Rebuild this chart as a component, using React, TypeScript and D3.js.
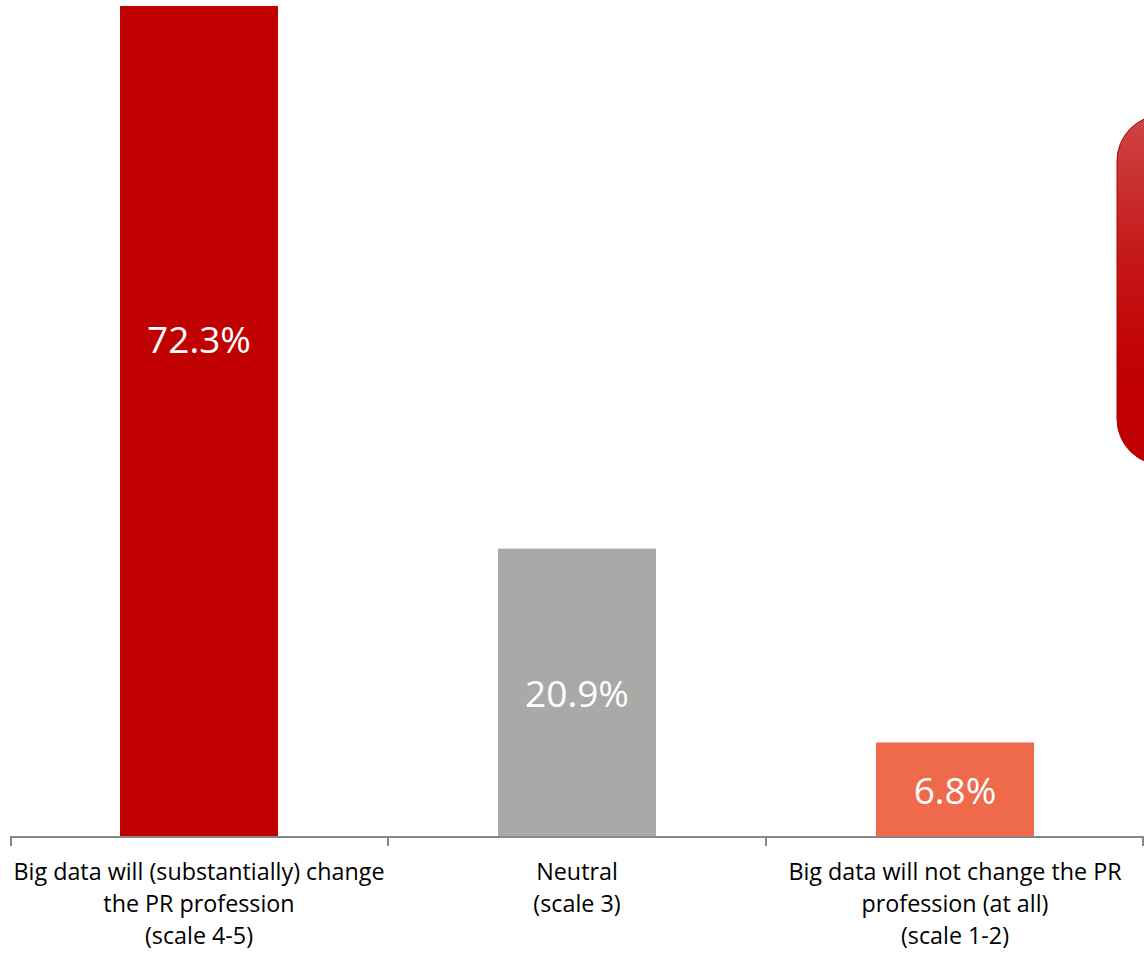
import React from "react";
import * as d3 from "d3";

const categories: string[][] = [
  ["Big data will (substantially) change", "the PR profession", "(scale 4-5)"],
  ["Neutral", "(scale 3)"],
  ["Big data will not change the PR", "profession (at all)", "(scale 1-2)"],
];
const values: number[] = [72.3, 20.9, 6.8];
const valueLabels: string[] = ["72.3%", "20.9%", "6.8%"];
const colors: string[] = ["#C00000", "#AAA9A7", "#EF6A4B"];

const W = 1144;
const H = 958;
const plotLeft = 10;
const plotRight = 1144;
const plotTop = 6;
const baseline = 836;
const visibleMax = 60.36;

export default function App() {
  const x = d3
    .scaleBand<number>()
    .domain(values.map((_, i) => i))
    .range([plotLeft, plotRight])
    .paddingInner(0.582)
    .paddingOuter(0.291);
  const y = d3.scaleLinear().domain([0, visibleMax]).range([baseline, plotTop]);
  const step = x.step();
  const font = "'Open Sans', 'Noto Sans', sans-serif";
  const ticks = [0, 1, 2, 3].map((i) => plotLeft + i * step);

  return (
    <svg
      width={W}
      height={H}
      style={{ position: "absolute", left: 0, top: 0, display: "block" }}
    >
      <defs>
        <clipPath id="plotClip">
          <rect x={0} y={plotTop} width={W} height={baseline - plotTop} />
        </clipPath>
        <linearGradient id="boxGrad" x1="0" y1="0" x2="0" y2="1">
          <stop offset="0%" stopColor="#CD4646" />
          <stop offset="40%" stopColor="#C51818" />
          <stop offset="75%" stopColor="#C00000" />
          <stop offset="100%" stopColor="#C00000" />
        </linearGradient>
      </defs>
      <rect width={W} height={H} fill="#ffffff" />
      <rect
        x={1117}
        y={115}
        width={220}
        height={350}
        rx={46}
        ry={46}
        fill="url(#boxGrad)"
        stroke="#B00000"
        strokeWidth={1}
      />
      <g clipPath="url(#plotClip)">
        {values.map((v, i) => (
          <rect
            key={i}
            x={x(i)}
            y={y(v)}
            width={x.bandwidth()}
            height={baseline - y(v)}
            fill={colors[i]}
          />
        ))}
      </g>
      {values.map((v, i) => (
        <text
          key={"l" + i}
          x={(x(i) as number) + x.bandwidth() / 2}
          y={(y(v) + baseline) / 2}
          textAnchor="middle"
          dominantBaseline="central"
          fill="#ffffff"
          fontFamily={font}
          fontSize={37}
        >
          {valueLabels[i]}
        </text>
      ))}
      <line
        x1={plotLeft}
        x2={plotRight}
        y1={baseline + 1}
        y2={baseline + 1}
        stroke="#878787"
        strokeWidth={2}
      />
      {ticks.map((t, i) => (
        <line
          key={"t" + i}
          x1={Math.min(Math.max(t, plotLeft + 1), plotRight - 1)}
          x2={Math.min(Math.max(t, plotLeft + 1), plotRight - 1)}
          y1={baseline}
          y2={baseline + 10}
          stroke="#878787"
          strokeWidth={2}
        />
      ))}
      {categories.map((lines, i) => (
        <text
          key={"c" + i}
          x={(x(i) as number) + x.bandwidth() / 2}
          textAnchor="middle"
          fill="#000000"
          fontFamily={font}
          fontSize={23.3}
        >
          {lines.map((ln, j) => (
            <tspan key={j} x={(x(i) as number) + x.bandwidth() / 2} y={880 + j * 32}>
              {ln}
            </tspan>
          ))}
        </text>
      ))}
    </svg>
  );
}
